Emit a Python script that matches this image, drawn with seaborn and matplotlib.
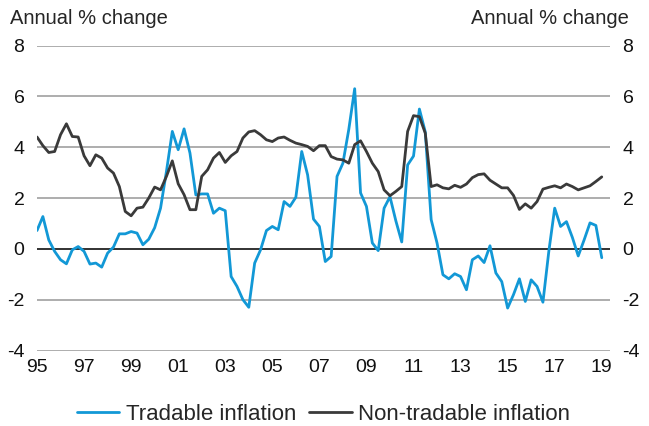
import numpy as np
import pandas as pd
import matplotlib
matplotlib.use("Agg")
import matplotlib.pyplot as plt
import seaborn as sns

# Quarterly data, 1995Q1 .. 2019Q1 (annual % change)
tradable = [
    0.72, 1.27, 0.35, -0.1,
    -0.43, -0.59, -0.04, 0.09,
    -0.1, -0.6, -0.56, -0.72,
    -0.17, 0.07, 0.59, 0.59,
    0.68, 0.62, 0.16, 0.38,
    0.83, 1.6, 3.04, 4.62,
    3.9, 4.72, 3.77, 2.12,
    2.16, 2.16, 1.4, 1.6,
    1.5, -1.09, -1.48, -2.0,
    -2.3, -0.56, -0.04, 0.72,
    0.88, 0.75, 1.86, 1.67,
    2.03, 3.83, 2.91, 1.17,
    0.88, -0.5, -0.3, 2.85,
    3.37, 4.7, 6.3, 2.2,
    1.67, 0.23, -0.07, 1.6,
    2.05, 1.1, 0.27, 3.3,
    3.65, 5.5, 4.6, 1.15,
    0.23, -1.02, -1.18, -0.98,
    -1.09, -1.61, -0.43, -0.28,
    -0.54, 0.12, -0.95, -1.29,
    -2.33, -1.8, -1.18, -2.07,
    -1.22, -1.48, -2.1, -0.1,
    1.6, 0.88, 1.07, 0.45,
    -0.28, 0.35, 1.02, 0.92,
    -0.35,
]
non_tradable = [
    4.4, 4.06, 3.79, 3.83,
    4.49, 4.92, 4.42, 4.4,
    3.66, 3.27, 3.7, 3.57,
    3.18, 2.98, 2.45, 1.47,
    1.3, 1.6, 1.64, 2.0,
    2.43, 2.32, 2.85, 3.46,
    2.56, 2.13, 1.54, 1.54,
    2.85, 3.11, 3.57, 3.79,
    3.4, 3.66, 3.83, 4.36,
    4.6, 4.65, 4.49, 4.29,
    4.22, 4.36, 4.4, 4.27,
    4.16, 4.1, 4.03, 3.86,
    4.06, 4.06, 3.63, 3.53,
    3.5, 3.37, 4.1, 4.25,
    3.83, 3.37, 3.04, 2.32,
    2.09, 2.26, 2.45, 4.62,
    5.24, 5.2, 4.55, 2.45,
    2.52, 2.4, 2.36, 2.5,
    2.42, 2.55, 2.8, 2.92,
    2.95, 2.7, 2.55, 2.4,
    2.4, 2.1, 1.55, 1.77,
    1.6, 1.86, 2.35, 2.42,
    2.48, 2.4, 2.55, 2.45,
    2.32, 2.4, 2.48, 2.65,
    2.83,
]
quarters = 1995 + np.arange(len(tradable)) / 4
year_ticks = list(range(1995, 2020, 2))
year_labels = [f"{y % 100:02d}" for y in year_ticks]
y_ticks = [-4, -2, 0, 2, 4, 6, 8]

df = pd.DataFrame({
    "date": np.concatenate([quarters, quarters]),
    "value": tradable + non_tradable,
    "series": ["Tradable inflation"] * len(tradable) + ["Non-tradable inflation"] * len(non_tradable),
})

sns.set_style("white")
plt.rcParams["font.family"] = ["Liberation Sans", "DejaVu Sans"]
plt.rcParams["axes.unicode_minus"] = False

fig = plt.figure(figsize=(6.49, 4.26), dpi=100)
ax = fig.add_axes([37 / 649, 1 - 350.5 / 426, (610 - 37) / 649, (350.5 - 45.5) / 426])

for y in y_ticks:
    ax.axhline(y, color="#222222" if y == 0 else "#a0a0a0", lw=1.3 if y == 0 else 1.2, zorder=1)

palette = {"Tradable inflation": "#1298d6", "Non-tradable inflation": "#3a3a3a"}
sns.lineplot(data=df, x="date", y="value", hue="series", palette=palette,
             linewidth=2.0, ax=ax, zorder=3)

ax.set_xlim(1995, 2019.35)
ax.set_ylim(-4, 8)
ax.set_xticks(year_ticks)
ax.set_xticklabels(year_labels)
ax.set_yticks(y_ticks)
ax.set_xlabel("")
ax.set_ylabel("")
for s in ax.spines.values():
    s.set_visible(False)
ax.tick_params(axis="both", length=0, labelsize=14, colors="#111111")
ax.tick_params(axis="x", pad=6)
ax.tick_params(axis="y", pad=9, labelright=True)

fig.text(10 / 649, 1 - 18 / 426, "Annual % change", fontsize=14.5, va="center", ha="left")
fig.text(629 / 649, 1 - 18 / 426, "Annual % change", fontsize=14.5, va="center", ha="right")

ax.legend(loc="lower center", bbox_to_anchor=(0.5, -0.31), ncol=2, frameon=False,
          fontsize=16, handlelength=1.9, handletextpad=0.3, columnspacing=0.6)

fig.savefig("out.png", dpi=100)
